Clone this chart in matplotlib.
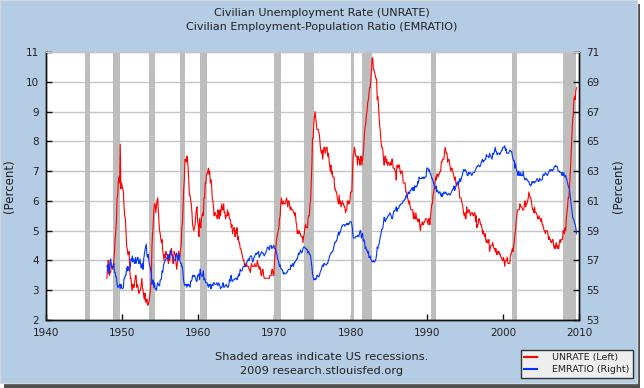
import numpy as np
import matplotlib
matplotlib.use("Agg")
import matplotlib.pyplot as plt
from matplotlib.patches import Rectangle
from matplotlib.lines import Line2D

# monthly values starting Jan 1948, ending Sep 2009
START_YEAR = 1948

unrate = [
    3.4, 3.8, 4.0, 3.9, 3.5, 3.6, 3.6, 3.9, 3.8, 3.7, 3.8, 4.0,  # 1948
    4.3, 4.7, 5.0, 5.3, 6.1, 6.2, 6.7, 6.8, 6.6, 7.9, 6.4, 6.6,  # 1949
    6.5, 6.4, 6.3, 5.8, 5.5, 5.4, 5.0, 4.5, 4.4, 4.2, 4.2, 4.3,  # 1950
    3.7, 3.4, 3.4, 3.1, 3.0, 3.2, 3.1, 3.1, 3.3, 3.5, 3.5, 3.1,  # 1951
    3.2, 3.1, 2.9, 2.9, 3.0, 3.0, 3.2, 3.4, 3.1, 3.0, 2.8, 2.7,  # 1952
    2.9, 2.6, 2.6, 2.7, 2.5, 2.5, 2.6, 2.7, 2.9, 3.1, 3.5, 4.5,  # 1953
    4.9, 5.2, 5.7, 5.9, 5.9, 5.6, 5.8, 6.0, 6.1, 5.7, 5.3, 5.0,  # 1954
    4.9, 4.7, 4.6, 4.7, 4.3, 4.2, 4.0, 4.2, 4.1, 4.3, 4.2, 4.2,  # 1955
    4.0, 3.9, 4.2, 4.0, 4.3, 4.3, 4.4, 4.1, 3.9, 3.9, 4.3, 4.2,  # 1956
    4.2, 3.9, 3.7, 3.9, 4.1, 4.3, 4.2, 4.1, 4.4, 4.5, 5.1, 5.2,  # 1957
    5.8, 6.4, 6.7, 7.4, 7.4, 7.3, 7.5, 7.4, 7.1, 6.7, 6.2, 6.2,  # 1958
    6.0, 5.9, 5.6, 5.2, 5.1, 5.0, 5.1, 5.2, 5.5, 5.7, 5.8, 5.3,  # 1959
    5.2, 4.8, 5.4, 5.2, 5.1, 5.4, 5.5, 5.6, 5.5, 6.1, 6.1, 6.6,  # 1960
    6.6, 6.9, 6.9, 7.0, 7.1, 6.9, 7.0, 6.6, 6.7, 6.5, 6.1, 6.0,  # 1961
    5.8, 5.5, 5.6, 5.6, 5.5, 5.5, 5.4, 5.7, 5.6, 5.4, 5.7, 5.5,  # 1962
    5.7, 5.9, 5.7, 5.7, 5.9, 5.6, 5.6, 5.4, 5.5, 5.5, 5.7, 5.5,  # 1963
    5.6, 5.4, 5.4, 5.3, 5.1, 5.2, 4.9, 5.0, 5.1, 5.1, 4.8, 5.0,  # 1964
    4.9, 5.1, 4.7, 4.8, 4.6, 4.6, 4.4, 4.4, 4.3, 4.2, 4.1, 4.0,  # 1965
    4.0, 3.8, 3.8, 3.8, 3.9, 3.8, 3.8, 3.8, 3.7, 3.7, 3.6, 3.8,  # 1966
    3.9, 3.8, 3.8, 3.8, 3.8, 3.9, 3.8, 3.8, 3.8, 4.0, 3.9, 3.8,  # 1967
    3.7, 3.8, 3.7, 3.5, 3.5, 3.7, 3.7, 3.5, 3.4, 3.4, 3.4, 3.4,  # 1968
    3.4, 3.4, 3.4, 3.4, 3.4, 3.5, 3.5, 3.5, 3.7, 3.7, 3.5, 3.5,  # 1969
    3.9, 4.2, 4.4, 4.6, 4.8, 4.9, 5.0, 5.1, 5.4, 5.5, 5.9, 6.1,  # 1970
    5.9, 5.9, 6.0, 5.9, 5.9, 5.9, 6.0, 6.1, 6.0, 5.8, 6.0, 6.0,  # 1971
    5.8, 5.7, 5.8, 5.7, 5.7, 5.7, 5.6, 5.6, 5.5, 5.6, 5.3, 5.2,  # 1972
    4.9, 5.0, 4.9, 5.0, 4.9, 4.9, 4.8, 4.8, 4.8, 4.6, 4.8, 4.9,  # 1973
    5.1, 5.2, 5.1, 5.1, 5.1, 5.4, 5.5, 5.5, 5.9, 6.0, 6.6, 7.2,  # 1974
    8.1, 8.1, 8.6, 8.8, 9.0, 8.8, 8.6, 8.4, 8.4, 8.4, 8.3, 8.2,  # 1975
    7.9, 7.7, 7.6, 7.7, 7.4, 7.6, 7.8, 7.8, 7.6, 7.7, 7.8, 7.8,  # 1976
    7.5, 7.6, 7.4, 7.2, 7.0, 7.2, 6.9, 7.0, 6.8, 6.8, 6.8, 6.4,  # 1977
    6.4, 6.3, 6.3, 6.1, 6.0, 5.9, 6.2, 5.9, 6.0, 5.8, 5.9, 6.0,  # 1978
    5.9, 5.9, 5.8, 5.8, 5.6, 5.7, 5.7, 6.0, 5.9, 6.0, 5.9, 6.0,  # 1979
    6.3, 6.3, 6.3, 6.9, 7.5, 7.6, 7.8, 7.7, 7.5, 7.5, 7.5, 7.2,  # 1980
    7.5, 7.4, 7.4, 7.2, 7.5, 7.5, 7.2, 7.4, 7.6, 7.9, 8.3, 8.5,  # 1981
    8.6, 8.9, 9.0, 9.3, 9.4, 9.6, 9.8, 9.8, 10.1, 10.4, 10.8, 10.8,  # 1982
    10.4, 10.4, 10.3, 10.2, 10.1, 10.1, 9.4, 9.5, 9.2, 8.8, 8.5, 8.3,  # 1983
    8.0, 7.8, 7.8, 7.7, 7.4, 7.2, 7.5, 7.5, 7.3, 7.4, 7.2, 7.3,  # 1984
    7.3, 7.2, 7.2, 7.3, 7.2, 7.4, 7.4, 7.1, 7.1, 7.1, 7.0, 7.0,  # 1985
    6.7, 7.2, 7.2, 7.1, 7.2, 7.2, 7.0, 6.9, 7.0, 7.0, 6.9, 6.6,  # 1986
    6.6, 6.6, 6.6, 6.3, 6.3, 6.2, 6.1, 6.0, 5.9, 6.0, 5.8, 5.7,  # 1987
    5.7, 5.7, 5.7, 5.4, 5.6, 5.4, 5.4, 5.6, 5.4, 5.4, 5.3, 5.3,  # 1988
    5.4, 5.2, 5.0, 5.2, 5.2, 5.3, 5.2, 5.2, 5.3, 5.3, 5.4, 5.4,  # 1989
    5.4, 5.3, 5.2, 5.4, 5.4, 5.2, 5.5, 5.7, 5.9, 5.9, 6.2, 6.3,  # 1990
    6.4, 6.6, 6.8, 6.7, 6.9, 6.9, 6.8, 6.9, 6.9, 7.0, 7.0, 7.3,  # 1991
    7.3, 7.4, 7.4, 7.4, 7.6, 7.8, 7.7, 7.6, 7.6, 7.3, 7.4, 7.4,  # 1992
    7.3, 7.1, 7.0, 7.1, 7.1, 7.0, 6.9, 6.8, 6.7, 6.8, 6.6, 6.5,  # 1993
    6.6, 6.6, 6.5, 6.4, 6.1, 6.1, 6.1, 6.0, 5.9, 5.8, 5.6, 5.5,  # 1994
    5.6, 5.4, 5.4, 5.8, 5.6, 5.6, 5.7, 5.7, 5.6, 5.5, 5.6, 5.6,  # 1995
    5.6, 5.5, 5.5, 5.6, 5.6, 5.3, 5.5, 5.1, 5.2, 5.2, 5.4, 5.4,  # 1996
    5.3, 5.2, 5.2, 5.1, 4.9, 5.0, 4.9, 4.8, 4.9, 4.7, 4.6, 4.7,  # 1997
    4.6, 4.6, 4.7, 4.3, 4.4, 4.5, 4.5, 4.5, 4.6, 4.5, 4.4, 4.4,  # 1998
    4.3, 4.4, 4.2, 4.3, 4.2, 4.3, 4.3, 4.2, 4.2, 4.1, 4.1, 4.0,  # 1999
    4.0, 4.1, 4.0, 3.8, 4.0, 4.0, 4.0, 4.1, 3.9, 3.9, 3.9, 3.9,  # 2000
    4.2, 4.2, 4.3, 4.4, 4.3, 4.5, 4.6, 4.9, 5.0, 5.3, 5.5, 5.7,  # 2001
    5.7, 5.7, 5.7, 5.9, 5.8, 5.8, 5.8, 5.7, 5.7, 5.7, 5.9, 6.0,  # 2002
    5.8, 5.9, 5.9, 6.0, 6.1, 6.3, 6.2, 6.1, 6.1, 6.0, 5.8, 5.7,  # 2003
    5.7, 5.6, 5.8, 5.6, 5.6, 5.6, 5.5, 5.4, 5.4, 5.5, 5.4, 5.4,  # 2004
    5.3, 5.4, 5.2, 5.2, 5.1, 5.0, 5.0, 4.9, 5.0, 5.0, 5.0, 4.9,  # 2005
    4.7, 4.8, 4.7, 4.7, 4.6, 4.6, 4.7, 4.7, 4.5, 4.4, 4.5, 4.4,  # 2006
    4.6, 4.5, 4.4, 4.5, 4.4, 4.6, 4.7, 4.6, 4.7, 4.7, 4.7, 5.0,  # 2007
    5.0, 4.9, 5.1, 5.0, 5.4, 5.6, 5.8, 6.1, 6.1, 6.5, 6.8, 7.3,  # 2008
    7.8, 8.3, 8.7, 8.9, 9.4, 9.5, 9.4, 9.7, 9.8,                 # 2009
]

emratio = [
    56.6, 56.7, 56.1, 56.7, 56.2, 57.0, 57.1, 56.6, 56.6, 56.5, 56.6, 56.8,  # 1948
    56.2, 56.2, 55.9, 55.9, 55.4, 55.2, 55.2, 55.3, 55.4, 55.1, 55.4, 55.2,  # 1949
    55.1, 55.1, 55.2, 55.8, 55.8, 56.0, 56.0, 56.5, 56.3, 56.6, 56.4, 56.3,  # 1950
    56.4, 56.6, 57.1, 57.0, 57.3, 56.9, 57.1, 56.9, 56.8, 57.2, 56.8, 57.0,  # 1951
    57.2, 57.2, 56.8, 56.8, 57.1, 56.8, 56.5, 56.7, 56.8, 56.4, 57.1, 57.4,  # 1952
    57.7, 57.9, 58.1, 57.4, 57.2, 57.4, 57.1, 56.7, 56.6, 56.3, 56.1, 55.4,  # 1953
    55.6, 55.7, 55.2, 55.5, 55.1, 55.1, 55.0, 55.3, 55.5, 55.4, 55.3, 55.3,  # 1954
    55.7, 55.7, 55.8, 56.3, 56.2, 56.6, 56.8, 56.9, 57.0, 57.1, 57.1, 57.2,  # 1955
    57.4, 57.1, 57.1, 57.3, 57.7, 57.6, 57.4, 57.3, 57.3, 57.1, 57.0, 57.0,  # 1956
    57.0, 57.4, 57.5, 57.2, 57.0, 57.4, 57.3, 57.0, 56.8, 56.8, 56.6, 56.6,  # 1957
    56.1, 55.6, 55.4, 55.3, 55.4, 55.4, 55.2, 55.4, 55.3, 55.4, 55.3, 55.2,  # 1958
    55.6, 55.6, 55.7, 56.0, 56.0, 55.9, 56.0, 55.9, 55.8, 55.6, 55.6, 56.0,  # 1959
    56.0, 56.1, 55.7, 56.4, 56.1, 56.0, 55.9, 56.0, 56.3, 55.7, 55.8, 55.6,  # 1960
    55.5, 55.5, 55.5, 55.3, 55.2, 55.4, 55.3, 55.4, 55.1, 55.3, 55.4, 55.3,  # 1961
    55.5, 55.5, 55.4, 55.4, 55.4, 55.5, 55.4, 55.3, 55.5, 55.4, 55.3, 55.1,  # 1962
    55.2, 55.2, 55.3, 55.5, 55.2, 55.2, 55.3, 55.3, 55.4, 55.3, 55.2, 55.2,  # 1963
    55.3, 55.7, 55.6, 55.9, 56.0, 55.6, 55.6, 55.7, 55.7, 55.7, 55.8, 55.8,  # 1964
    55.8, 55.7, 55.9, 55.9, 56.1, 56.0, 56.4, 56.3, 56.3, 56.3, 56.5, 56.6,  # 1965
    56.6, 56.6, 56.6, 56.8, 56.8, 56.9, 57.0, 57.1, 57.0, 57.2, 57.3, 57.3,  # 1966
    57.3, 57.0, 56.9, 57.1, 57.2, 57.3, 57.4, 57.5, 57.4, 57.5, 57.5, 57.6,  # 1967
    57.2, 57.3, 57.4, 57.5, 57.6, 57.5, 57.5, 57.4, 57.3, 57.4, 57.5, 57.6,  # 1968
    57.7, 57.9, 57.9, 57.8, 57.7, 58.0, 58.0, 58.0, 57.8, 57.9, 57.9, 58.0,  # 1969
    57.8, 57.8, 57.8, 57.5, 57.4, 57.1, 57.0, 56.8, 56.6, 56.7, 56.5, 56.4,  # 1970
    56.4, 56.3, 56.1, 56.2, 56.1, 56.1, 56.1, 56.2, 56.2, 56.3, 56.4, 56.4,  # 1971
    56.4, 56.4, 56.7, 56.6, 56.7, 56.8, 56.6, 56.8, 56.9, 56.9, 57.0, 57.1,  # 1972
    57.1, 57.3, 57.5, 57.4, 57.5, 57.7, 57.6, 57.5, 57.6, 57.8, 57.9, 57.9,  # 1973
    57.9, 57.8, 57.8, 57.7, 57.7, 57.5, 57.6, 57.4, 57.4, 57.3, 56.9, 56.6,  # 1974
    56.1, 55.9, 55.7, 55.7, 55.8, 55.7, 55.8, 56.0, 56.0, 55.9, 55.9, 56.0,  # 1975
    56.2, 56.3, 56.4, 56.6, 56.7, 56.6, 56.8, 56.8, 56.7, 56.7, 56.7, 56.8,  # 1976
    56.8, 57.0, 57.1, 57.3, 57.4, 57.5, 57.5, 57.6, 57.6, 57.8, 58.0, 58.2,  # 1977
    58.2, 58.3, 58.3, 58.5, 58.7, 58.9, 58.7, 58.9, 58.9, 59.1, 59.3, 59.3,  # 1978
    59.4, 59.4, 59.4, 59.3, 59.4, 59.4, 59.5, 59.4, 59.5, 59.4, 59.5, 59.6,  # 1979
    59.6, 59.6, 59.4, 59.1, 58.6, 58.5, 58.5, 58.5, 58.6, 58.6, 58.6, 58.7,  # 1980
    58.6, 58.6, 58.8, 59.0, 59.0, 58.5, 58.7, 58.8, 58.3, 58.4, 58.3, 57.8,  # 1981
    57.9, 57.7, 57.7, 57.5, 57.6, 57.2, 57.2, 57.3, 57.1, 57.0, 56.9, 56.9,  # 1982
    57.0, 56.9, 56.9, 57.0, 57.1, 57.4, 57.9, 57.8, 58.0, 58.1, 58.4, 58.6,  # 1983
    58.8, 59.1, 59.1, 59.2, 59.6, 59.9, 59.7, 59.6, 59.8, 59.8, 59.9, 60.0,  # 1984
    60.0, 60.1, 60.2, 60.1, 60.0, 59.8, 59.8, 60.1, 60.3, 60.3, 60.4, 60.4,  # 1985
    60.6, 60.3, 60.5, 60.5, 60.5, 60.7, 60.7, 60.8, 60.8, 60.8, 60.9, 61.0,  # 1986
    61.0, 61.1, 61.1, 61.3, 61.4, 61.2, 61.4, 61.6, 61.5, 61.5, 61.7, 61.7,  # 1987
    61.8, 61.9, 61.7, 61.9, 61.7, 62.0, 62.0, 61.9, 62.0, 62.0, 62.3, 62.2,  # 1988
    62.6, 62.5, 62.5, 62.5, 62.5, 62.6, 62.5, 62.6, 62.5, 62.6, 62.6, 62.6,  # 1989
    63.2, 63.2, 63.2, 63.0, 63.1, 62.9, 62.8, 62.7, 62.5, 62.5, 62.3, 62.2,  # 1990
    62.0, 61.9, 61.8, 62.0, 61.6, 61.7, 61.6, 61.5, 61.6, 61.6, 61.4, 61.3,  # 1991
    61.5, 61.3, 61.5, 61.6, 61.5, 61.5, 61.6, 61.5, 61.4, 61.4, 61.5, 61.5,  # 1992
    61.4, 61.4, 61.5, 61.6, 61.7, 61.8, 61.8, 62.0, 61.7, 61.8, 62.0, 62.1,  # 1993
    62.2, 62.3, 62.1, 62.3, 62.5, 62.3, 62.4, 62.6, 62.7, 62.9, 63.1, 63.1,  # 1994
    63.0, 63.1, 63.0, 62.9, 62.7, 62.7, 62.9, 62.8, 62.9, 62.9, 62.8, 62.7,  # 1995
    62.8, 62.9, 62.9, 62.9, 63.0, 63.1, 63.2, 63.3, 63.3, 63.4, 63.4, 63.3,  # 1996
    63.3, 63.4, 63.6, 63.7, 63.8, 63.6, 63.7, 63.7, 63.8, 63.8, 64.1, 64.0,  # 1997
    64.0, 64.0, 63.9, 64.2, 64.1, 64.0, 63.9, 63.8, 64.2, 64.1, 64.2, 64.4,  # 1998
    64.6, 64.3, 64.3, 64.1, 64.2, 64.2, 64.2, 64.1, 64.2, 64.3, 64.4, 64.4,  # 1999
    64.6, 64.6, 64.6, 64.7, 64.4, 64.5, 64.2, 64.2, 64.2, 64.2, 64.3, 64.4,  # 2000
    64.4, 64.3, 64.3, 64.0, 63.8, 63.7, 63.7, 63.2, 63.5, 63.2, 63.0, 62.9,  # 2001
    62.7, 63.0, 62.8, 62.7, 62.9, 62.7, 62.7, 62.7, 63.0, 62.7, 62.5, 62.4,  # 2002
    62.5, 62.5, 62.4, 62.4, 62.3, 62.3, 62.1, 62.1, 62.0, 62.1, 62.3, 62.2,  # 2003
    62.3, 62.3, 62.2, 62.3, 62.3, 62.4, 62.5, 62.4, 62.3, 62.3, 62.5, 62.4,  # 2004
    62.4, 62.4, 62.4, 62.7, 62.8, 62.7, 62.8, 62.9, 62.8, 62.8, 62.7, 62.8,  # 2005
    62.9, 63.0, 63.1, 63.0, 63.1, 63.1, 63.0, 63.1, 63.1, 63.3, 63.3, 63.4,  # 2006
    63.3, 63.3, 63.3, 63.0, 63.0, 63.0, 62.9, 62.9, 62.9, 62.7, 62.9, 62.7,  # 2007
    62.9, 62.7, 62.6, 62.7, 62.5, 62.4, 62.2, 62.0, 61.9, 61.8, 61.4, 61.0,  # 2008
    60.6, 60.3, 59.9, 59.8, 59.7, 59.5, 59.4, 59.2, 58.8,                    # 2009
]

# NBER recessions (peak, trough) as year-month
rec_start = ["1945-02", "1948-11", "1953-07", "1957-08", "1960-04", "1969-12",
             "1973-11", "1980-01", "1981-07", "1990-07", "2001-03", "2007-12"]
rec_end = ["1945-10", "1949-10", "1954-05", "1958-04", "1961-02", "1970-11",
           "1975-03", "1980-07", "1982-11", "1991-03", "2001-11", "2009-09"]

left_ticks = list(range(2, 12))
right_ticks = list(range(53, 72, 2))
year_ticks = list(range(1940, 2011, 10))

BG = "#b4cce4"
GRID = "#c4c4c4"
SHADE = "#bdbdbd"
TXT = "#222222"


def ym(s):
    y, m = s.split("-")
    return int(y) + (int(m) - 1) / 12.0


t_un = START_YEAR + np.arange(len(unrate)) / 12.0
t_em = START_YEAR + np.arange(len(emratio)) / 12.0

fig = plt.figure(figsize=(6.44, 3.88), dpi=100)
fig.patch.set_facecolor("white")
# shadow + panel background
fig.patches.append(Rectangle((4 / 644, 0), 636 / 644, 384 / 388, transform=fig.transFigure,
                             facecolor="#505050", edgecolor="none", zorder=-3))
fig.patches.append(Rectangle((0, 5 / 388), 637 / 644, 383 / 388, transform=fig.transFigure,
                             facecolor=BG, edgecolor="#d0d8e0", linewidth=1, zorder=-2))

ax = fig.add_axes([46 / 644, 1 - 320 / 388, 533 / 644, 268 / 388])
ax.set_facecolor("white")

for a, b in zip(rec_start, rec_end):
    ax.axvspan(ym(a), ym(b), color=SHADE, lw=0, zorder=1)

ax.set_xlim(1940, 2010)
ax.set_ylim(2, 11)
ax.set_yticks(left_ticks)
ax.set_xticks(year_ticks)
ax.yaxis.grid(True, color=GRID, lw=1, zorder=0)
ax.set_axisbelow(True)
ax.plot(t_un, unrate, color="#ff0000", lw=0.8, zorder=3)

ax2 = ax.twinx()
ax2.set_ylim(53, 71)
ax2.set_yticks(right_ticks)
ax2.plot(t_em, emratio, color="#0033ff", lw=0.8, zorder=3)

for a in (ax, ax2):
    a.tick_params(direction="in", length=4, width=1, colors="#111111",
                  labelsize=7.5, labelcolor=TXT, pad=5)
    for side in ("left", "right", "bottom"):
        a.spines[side].set_color("#111111")
        a.spines[side].set_linewidth(1)
    a.spines["top"].set_color(GRID)
ax.tick_params(axis="x", pad=6)

ax.set_ylabel("(Percent)", fontsize=8.5, color=TXT, labelpad=7)
ax2.set_ylabel("(Percent)", fontsize=8.5, color=TXT, labelpad=9)

fig.text(0.5, 1 - 13 / 388, "Civilian Unemployment Rate (UNRATE)", ha="center", va="center",
         fontsize=8, color=TXT)
fig.text(0.5, 1 - 27 / 388, "Civilian Employment-Population Ratio (EMRATIO)", ha="center",
         va="center", fontsize=8, color=TXT)
fig.text(0.5, 1 - 357 / 388, "Shaded areas indicate US recessions.", ha="center", va="center",
         fontsize=8.2, color=TXT)
fig.text(0.5, 1 - 371 / 388, "2009 research.stlouisfed.org", ha="center", va="center",
         fontsize=8.2, color=TXT)

handles = [Line2D([], [], color="#ff0000", lw=1.5), Line2D([], [], color="#0033ff", lw=1.5)]
leg = fig.legend(handles, ["UNRATE (Left)", "EMRATIO (Right)"], loc="lower right",
                 bbox_to_anchor=(633 / 644, 1 - 378 / 388), fontsize=6.8, frameon=True,
                 fancybox=False, edgecolor="#333333", facecolor="#eeeeee", framealpha=1,
                 handlelength=1.3, handletextpad=1.6, borderpad=0.4, labelspacing=0.3,
                 borderaxespad=0)
for txt in leg.get_texts():
    txt.set_color(TXT)

fig.savefig("out.png", dpi=100, facecolor=fig.get_facecolor())
